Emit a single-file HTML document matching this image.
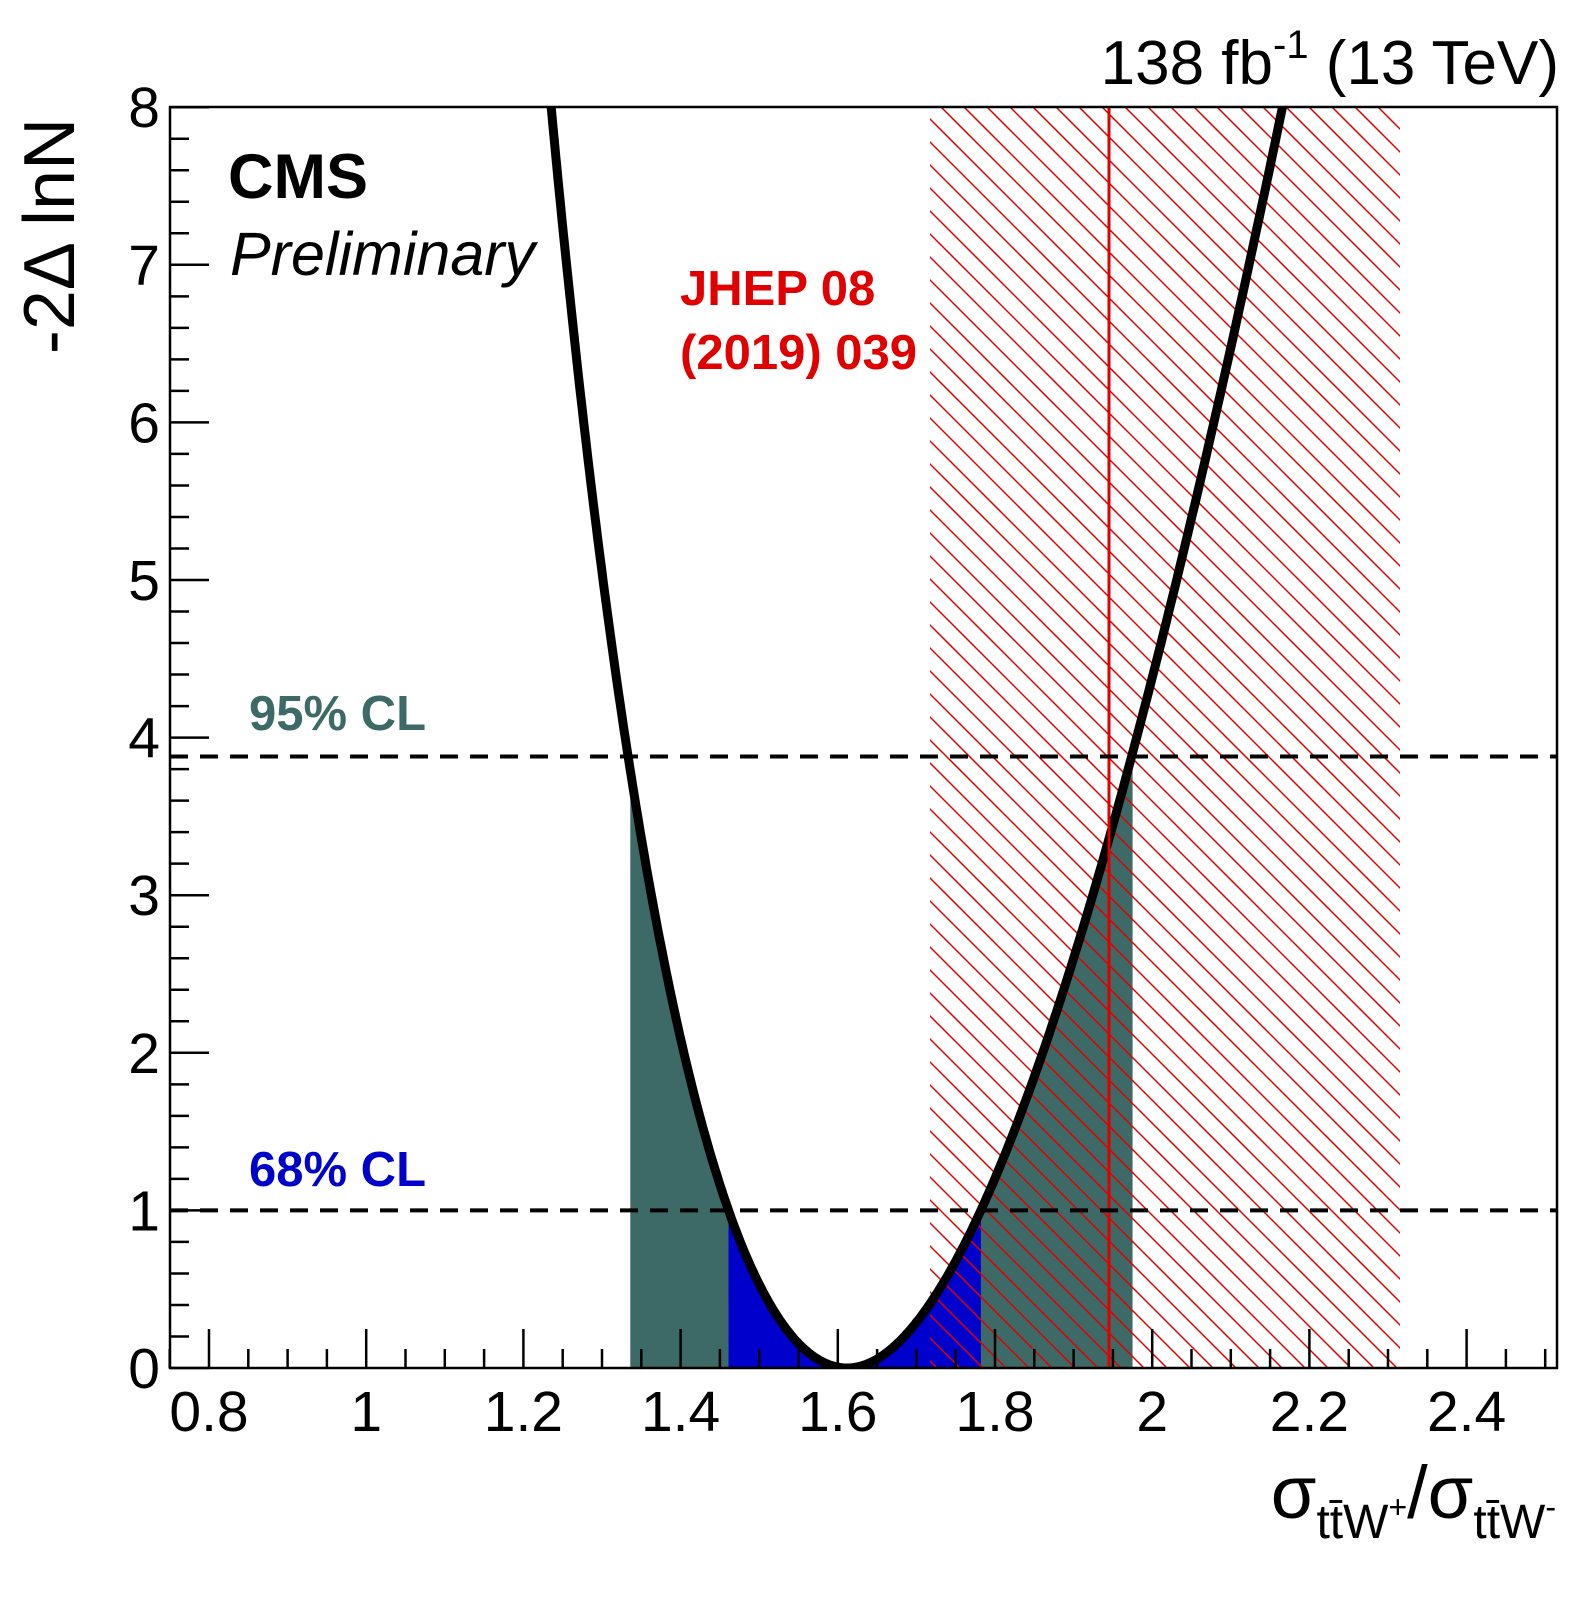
<!DOCTYPE html>
<html><head><meta charset="utf-8"><style>
html,body{margin:0;padding:0;background:#fff}
svg text{font-family:"Liberation Sans",sans-serif}
</style></head><body>
<svg id="s" width="1585" height="1593" xmlns="http://www.w3.org/2000/svg">
<defs>
<clipPath id="fr"><rect x="170" y="107" width="1387" height="1261"/></clipPath>
<clipPath id="hc"><rect id="hcr" x="930" y="107" width="470" height="1261"/></clipPath>
</defs>
<g id="fills"></g>
<g id="hatch" clip-path="url(#hc)" stroke="#e00000" stroke-width="1.5"></g>
<g clip-path="url(#fr)"><path id="curve" fill="none" stroke="#000" stroke-width="9"/></g>
<line id="red" x1="1109" y1="107" x2="1109" y2="1368" stroke="#e00000" stroke-width="3"/>
<line id="d1" x1="170" x2="1557" stroke="#000" stroke-width="4" stroke-dasharray="18,12"/>
<line id="d2" x1="170" x2="1557" stroke="#000" stroke-width="4" stroke-dasharray="18,12"/>
<rect x="170" y="107" width="1387" height="1261" fill="none" stroke="#000" stroke-width="2.5"/>
<g id="ticks" stroke="#000" stroke-width="2.5"></g>
<g id="labels" font-size="54"></g>
<text x="1559" y="84" font-size="62" text-anchor="end">138 fb<tspan font-size="40" dy="-26">-1</tspan><tspan dy="26"> (13 TeV)</tspan></text>
<text x="228" y="198" font-size="63" font-weight="bold">CMS</text>
<text x="230" y="275" font-size="61" font-style="italic">Preliminary</text>
<text x="680" y="305" font-size="49" font-weight="bold" fill="#e00000">JHEP 08</text>
<text x="680" y="369" font-size="49" font-weight="bold" fill="#e00000">(2019) 039</text>
<text x="249" y="730" font-size="49" font-weight="bold" fill="#3d6a66">95% CL</text>
<text x="249" y="1186" font-size="49" font-weight="bold" fill="#0000cc">68% CL</text>
<text transform="translate(74,236) rotate(-90)" font-size="72" text-anchor="middle">-2Δ lnN</text>
<text x="1556" y="1518" font-size="74" text-anchor="end">σ<tspan font-size="48" dy="20">tt̄W</tspan><tspan font-size="32" dy="-20">+</tspan><tspan dy="0">/σ</tspan><tspan font-size="48" dy="20">tt̄W</tspan><tspan font-size="32" dy="-20">-</tspan></text>
</svg>
<script>
var NS="http://www.w3.org/2000/svg";
function X(v){return 209+(v-0.8)*786;}
function Y(v){return 1368-v*157.6;}
function el(t,a,p){var e=document.createElementNS(NS,t);for(var k in a)e.setAttribute(k,a[k]);p.appendChild(e);return e;}
document.getElementById("d1").setAttribute("y1",Y(1));document.getElementById("d1").setAttribute("y2",Y(1));
document.getElementById("d2").setAttribute("y1",Y(3.88));document.getElementById("d2").setAttribute("y2",Y(3.88));
var m=1.612;
function dL(s){return 0.1607*s-0.00973*s*s;}
function dR(s){return 0.1559*s+0.0141*s*s;}
var pts=[];var smax=3.0;
for(var i=200;i>=1;i--){var s=smax*i/200;pts.push([m-dL(s),s*s]);}
pts.push([m,0]);
for(var i=1;i<=200;i++){var s=smax*i/200;pts.push([m+dR(s),s*s]);}
var d="";pts.forEach(function(p,i){d+=(i?"L":"M")+X(p[0]).toFixed(1)+","+Y(p[1]).toFixed(1);});
document.getElementById("curve").setAttribute("d",d);
function yAt(x){for(var i=0;i<pts.length-1;i++){var a=pts[i],b=pts[i+1];if((a[0]-x)*(b[0]-x)<=0){var t=(x-a[0])/(b[0]-a[0]||1);return a[1]+t*(b[1]-a[1]);}}return 0;}
function fillReg(x0,x1,col){var dd="M"+X(x0)+","+Y(0);for(var i=0;i<=300;i++){var x=x0+(x1-x0)*i/300;dd+="L"+X(x).toFixed(1)+","+Y(yAt(x)).toFixed(1);}dd+="L"+X(x1)+","+Y(0)+"Z";el("path",{d:dd,fill:col},document.getElementById("fills"));}
fillReg(1.336,1.975,"#3d6a66");
fillReg(1.461,1.782,"#0000cc");
var h=document.getElementById("hatch");
for(var c=930-1300;c<1400+50;c+=23){el("line",{x1:c,y1:107,x2:c+1261,y2:1368},h);}
var tk=document.getElementById("ticks"),lb=document.getElementById("labels");
for(var k=0;k<=35;k++){var v=0.75+k*0.05;var x=X(v);if(x>1557)break;var maj=Math.abs((v-0.8)/0.2-Math.round((v-0.8)/0.2))<1e-6;
 el("line",{x1:x,y1:1368,x2:x,y2:1368-(maj?39:19)},tk);
 if(maj){var t=el("text",{x:x,y:1431,"text-anchor":"middle","font-size":"57"},lb);var r=Math.round(v*10)/10;t.textContent=(r==1||r==2)?String(r):r.toFixed(1);}}
for(var k=0;k<=40;k++){var v=k*0.2;var y=Y(v);var maj=k%5==0;
 el("line",{x1:170,y1:y,x2:170+(maj?39:19),y2:y},tk);
 if(maj){var t=el("text",{x:160,y:y+20,"text-anchor":"end","font-size":"57"},lb);t.textContent=String(k/5);}}
</script>
</body></html>
